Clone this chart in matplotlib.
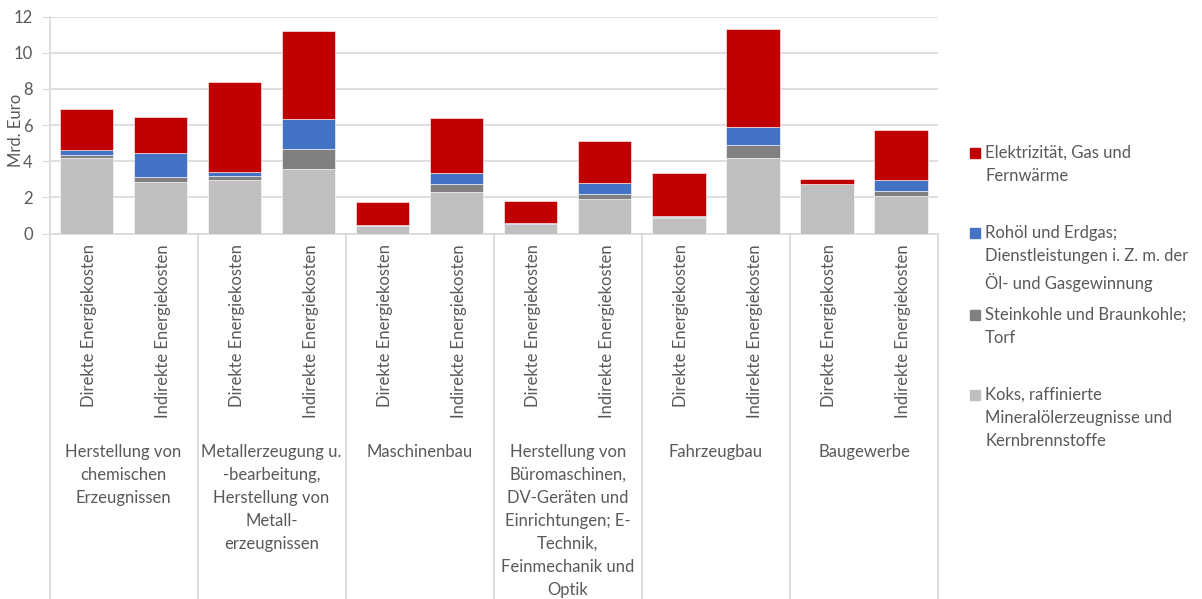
import matplotlib
matplotlib.use("Agg")
import matplotlib.pyplot as plt
from matplotlib.lines import Line2D
from matplotlib.patches import Rectangle
from matplotlib.transforms import blended_transform_factory
import numpy as np

plt.rcParams['font.family'] = ['Lato', 'DejaVu Sans']

groups = [
    "Herstellung von\nchemischen\nErzeugnissen",
    "Metallerzeugung u.\n-bearbeitung,\nHerstellung von\nMetall-\nerzeugnissen",
    "Maschinenbau",
    "Herstellung von\nBüromaschinen,\nDV-Geräten und\nEinrichtungen; E-\nTechnik,\nFeinmechanik und\nOptik",
    "Fahrzeugbau",
    "Baugewerbe",
]
kinds = ["Direkte Energiekosten", "Indirekte Energiekosten"]

series_names = [
    "Koks, raffinierte\nMineralölerzeugnisse und\nKernbrennstoffe",
    "Steinkohle und Braunkohle;\nTorf",
    "Rohöl und Erdgas;\nDienstleistungen i. Z. m. der\nÖl- und Gasgewinnung",
    "Elektrizität, Gas und\nFernwärme",
]
colors = ["#BFBFBF", "#808080", "#4472C4", "#C00000"]

# Mrd. Euro per bar (Direkt / Indirekt per sector)
koks = [4.19, 2.86, 2.95, 3.56, 0.42, 2.29, 0.52, 1.90, 0.87, 4.17, 2.74, 2.05]
kohle = [0.15, 0.24, 0.24, 1.09, 0.03, 0.44, 0.02, 0.31, 0.04, 0.71, 0.01, 0.31]
rohoel = [0.27, 1.33, 0.24, 1.68, 0.04, 0.63, 0.03, 0.56, 0.05, 1.03, 0.01, 0.61]
strom = [2.26, 2.00, 4.95, 4.86, 1.28, 3.05, 1.22, 2.36, 2.40, 5.43, 0.23, 2.74]

values = [koks, kohle, rohoel, strom]

W, H = 1202, 599
fig = plt.figure(figsize=(W / 100, H / 100), dpi=100)
fig.patch.set_facecolor("white")

x0, x1 = 49.5, 938.0
y_top, y_bot = 16.7, 233.5
ax = fig.add_axes([x0 / W, 1 - y_bot / H, (x1 - x0) / W, (y_bot - y_top) / H])

text_col = "#595959"
grid_col = "#D9D9D9"
fs = 12
ls = 1.54

n = len(koks)
x = np.arange(n)
bottom = np.zeros(n)
for vals, col in zip(values, colors):
    ax.bar(x, vals, bottom=bottom, width=0.72, color=col, edgecolor="white",
           linewidth=0.4, zorder=3)
    bottom += np.array(vals)

ax.set_xlim(-0.5, n - 0.5)
ax.set_ylim(0, 12)
ax.set_yticks(np.arange(0, 13, 2))
ax.yaxis.grid(True, color=grid_col, linewidth=1.2, zorder=0)
ax.tick_params(axis='y', length=6, color=grid_col, labelsize=fs,
               labelcolor=text_col, pad=6)
ax.tick_params(axis='x', length=0, labelbottom=False)
for s in ["top", "right"]:
    ax.spines[s].set_visible(False)
for s in ["left", "bottom"]:
    ax.spines[s].set_color(grid_col)
    ax.spines[s].set_linewidth(1.2)

fig.text(16 / W, 1 - 130 / H, "Mrd. Euro", rotation=90, ha="center",
         va="center", fontsize=fs, color=text_col)

trans = blended_transform_factory(ax.transData, fig.transFigure)

# group separators below the axis
for b in np.arange(-0.5, n, 2):
    fig.add_artist(Line2D([b, b], [1 - y_bot / H, 0], transform=trans,
                          color=grid_col, linewidth=1.2))

# rotated bar labels
for i in range(n):
    ax.text(i + 0.03, 1 - 244 / H, kinds[i % 2], transform=trans, rotation=90,
            ha="center", va="top", fontsize=fs, color=text_col)

# sector labels
for g, name in enumerate(groups):
    ax.text(2 * g + 0.5, 1 - 444 / H, name, transform=trans, ha="center",
            va="top", fontsize=fs, color=text_col, linespacing=ls,
            multialignment="center")

# legend, top entry first
legend_y = [153, 233, 315, 395]
for yy, name, col in zip(legend_y, series_names[::-1], colors[::-1]):
    fig.add_artist(Rectangle((970 / W, 1 - (yy + 5) / H), 10 / W, 10 / H,
                             transform=fig.transFigure, color=col))
    fig.text(985 / W, 1 - (yy - 8) / H, name, ha="left", va="top",
             fontsize=fs, color=text_col, linespacing=ls)

fig.savefig("out.png", dpi=100)
